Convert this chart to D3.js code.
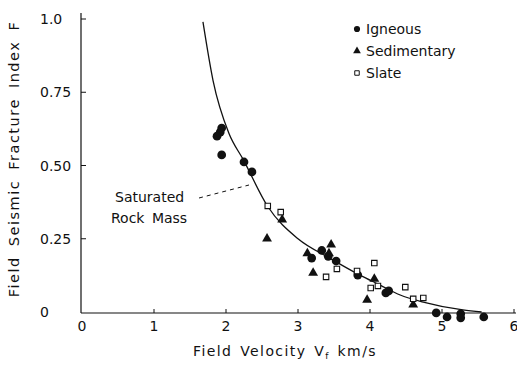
<!DOCTYPE html>
<html>
<head>
<meta charset="utf-8">
<script src="https://cdn.jsdelivr.net/npm/d3@7"></script>
<style>
  body { margin: 0; background: #fff; }
  text { font-family: "DejaVu Sans", sans-serif; fill: #111; }
</style>
</head>
<body>
<div id="chart"></div>
<script>
// Data ------------------------------------------------------------------------
const xTicks = [0, 1, 2, 3, 4, 5, 6];
const yTicks = [0, 0.25, 0.5, 0.75, 1.0];
const yTickLabels = ["0", "0.25", "0.50", "0.75", "1.0"];

const igneous = [
  [1.94, 0.628], [1.92, 0.614], [1.875, 0.60], [1.94, 0.536], [2.25, 0.512],
  [2.36, 0.478], [3.33, 0.21], [3.19, 0.184], [3.42, 0.19], [3.53, 0.174],
  [3.83, 0.126], [4.22, 0.065], [4.26, 0.072], [4.92, -0.003], [5.07, -0.017],
  [5.26, -0.006], [5.26, -0.02], [5.58, -0.017]
];
const sedimentary = [
  [2.57, 0.25], [2.78, 0.315], [3.13, 0.20], [3.21, 0.133], [3.46, 0.23],
  [3.43, 0.20], [4.06, 0.113], [3.96, 0.041], [4.6, 0.025]
];
const slate = [
  [2.58, 0.362], [2.76, 0.341], [3.39, 0.12], [3.54, 0.147], [3.82, 0.14],
  [4.06, 0.167], [4.01, 0.082], [4.11, 0.089], [4.49, 0.085], [4.6, 0.045],
  [4.74, 0.048]
];
const fitCurve = [
  [1.68, 0.99], [1.82, 0.79], [2.04, 0.61], [2.24, 0.52], [2.58, 0.36],
  [3.0, 0.25], [3.44, 0.184], [3.86, 0.126], [4.14, 0.092], [4.42, 0.058],
  [4.74, 0.034], [5.29, 0.007], [5.55, 0]
];
const legendItems = [
  { label: "Igneous", shape: "circle" },
  { label: "Sedimentary", shape: "triangle" },
  { label: "Slate", shape: "square" }
];

// Setup -----------------------------------------------------------------------
const width = 517;
const height = 365;

const svg = d3.select("#chart")
  .append("svg")
  .attr("width", width)
  .attr("height", height);

const x = d3.scaleLinear().domain([0, 6]).range([82, 514]);
const y = d3.scaleLinear().domain([0, 1]).range([312, 19]);

// Axes ------------------------------------------------------------------------
svg.append("line")
  .attr("x1", 81).attr("x2", 81)
  .attr("y1", 13).attr("y2", 313)
  .attr("stroke", "#111").attr("stroke-width", 1.2);

svg.append("line")
  .attr("x1", 81).attr("x2", 516)
  .attr("y1", 313).attr("y2", 313)
  .attr("stroke", "#111").attr("stroke-width", 1.2);

svg.selectAll(".ytick")
  .data(yTicks.slice(1))
  .enter()
  .append("line")
  .attr("x1", 81).attr("x2", 86)
  .attr("y1", d => y(d)).attr("y2", d => y(d))
  .attr("stroke", "#111");

svg.selectAll(".ylabel")
  .data(yTicks)
  .enter()
  .append("text")
  .attr("x", 40)
  .attr("y", d => y(d) + 5)
  .attr("font-size", 14)
  .text((d, i) => yTickLabels[i]);

svg.selectAll(".xtick")
  .data(xTicks.slice(1))
  .enter()
  .append("line")
  .attr("x1", d => x(d)).attr("x2", d => x(d))
  .attr("y1", 313).attr("y2", 309)
  .attr("stroke", "#111");

svg.selectAll(".xlabel")
  .data(xTicks)
  .enter()
  .append("text")
  .attr("x", d => x(d))
  .attr("y", 331)
  .attr("text-anchor", "middle")
  .attr("font-size", 14)
  .text(d => d);

// Axis titles
const xTitle = svg.append("text")
  .attr("x", 285)
  .attr("y", 356)
  .attr("text-anchor", "middle")
  .attr("font-size", 14)
  .attr("letter-spacing", 1.4)
  .attr("word-spacing", 2);
xTitle.append("tspan").text("Field Velocity V");
xTitle.append("tspan").attr("font-size", 9).attr("dy", 3).text("f");
xTitle.append("tspan").attr("dy", -3).text("  km/s");

svg.append("text")
  .attr("transform", "translate(19,159) rotate(-90)")
  .attr("text-anchor", "middle")
  .attr("font-size", 14.5)
  .attr("letter-spacing", 1.5)
  .attr("word-spacing", 4)
  .text("Field Seismic Fracture Index F");

// Fitted curve ----------------------------------------------------------------
svg.append("path")
  .datum(fitCurve)
  .attr("d", d3.line().x(d => x(d[0])).y(d => y(d[1])).curve(d3.curveMonotoneX))
  .attr("fill", "none")
  .attr("stroke", "#111")
  .attr("stroke-width", 1.3);

// Points ----------------------------------------------------------------------
const symCircle = d3.symbol().type(d3.symbolCircle).size(60);
const symTriangle = d3.symbol().type(d3.symbolTriangle).size(42);
const symSquare = d3.symbol().type(d3.symbolSquare).size(30);

svg.selectAll(".ign")
  .data(igneous)
  .enter()
  .append("path")
  .attr("d", symCircle)
  .attr("transform", d => `translate(${x(d[0])},${y(d[1])})`)
  .attr("fill", "#111");

svg.selectAll(".sed")
  .data(sedimentary)
  .enter()
  .append("path")
  .attr("d", symTriangle)
  .attr("transform", d => `translate(${x(d[0])},${y(d[1])})`)
  .attr("fill", "#111");

svg.selectAll(".sla")
  .data(slate)
  .enter()
  .append("path")
  .attr("d", symSquare)
  .attr("transform", d => `translate(${x(d[0])},${y(d[1])})`)
  .attr("fill", "#fff")
  .attr("stroke", "#111")
  .attr("stroke-width", 1.1);

// Annotation ------------------------------------------------------------------
svg.append("text")
  .attr("x", 115).attr("y", 202)
  .attr("font-size", 14)
  .text("Saturated");
svg.append("text")
  .attr("x", 111).attr("y", 223)
  .attr("font-size", 14)
  .attr("word-spacing", 3)
  .text("Rock Mass");
svg.append("line")
  .attr("x1", 199).attr("y1", 198)
  .attr("x2", 249).attr("y2", 185)
  .attr("stroke", "#111")
  .attr("stroke-width", 1)
  .attr("stroke-dasharray", "4,4");

// Legend ----------------------------------------------------------------------
const legend = svg.selectAll(".legend")
  .data(legendItems)
  .enter()
  .append("g")
  .attr("transform", (d, i) => `translate(357,${29 + i * 22})`);

legend.append("path")
  .attr("d", d => d.shape === "circle" ? d3.symbol().type(d3.symbolCircle).size(30)()
    : d.shape === "triangle" ? d3.symbol().type(d3.symbolTriangle).size(26)()
    : d3.symbol().type(d3.symbolSquare).size(20)())
  .attr("fill", d => d.shape === "square" ? "#fff" : "#111")
  .attr("stroke", d => d.shape === "square" ? "#111" : "none");

legend.append("text")
  .attr("x", 9)
  .attr("y", 5)
  .attr("font-size", 14)
  .text(d => d.label);
</script>
</body>
</html>
